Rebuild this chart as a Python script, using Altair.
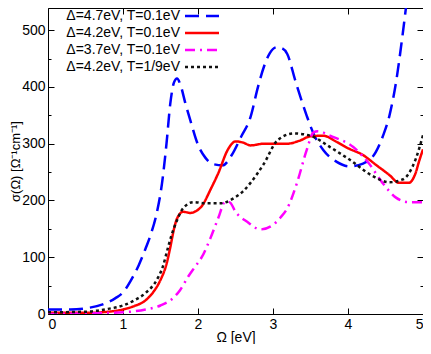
import altair as alt
import pandas as pd

names = ["Δ=4.7eV, T=0.1eV", "Δ=4.2eV, T=0.1eV", "Δ=3.7eV, T=0.1eV", "Δ=4.2eV, T=1/9eV"]
colors = ["#0000ff", "#ff0000", "#ff00ff", "#111111"]
dashes = [[14, 7], [1, 0], [10, 5, 2, 5], [3, 3]]

blue_x = [0, 0.3, 0.5, 0.73, 0.9, 1.0, 1.1, 1.21, 1.3, 1.37, 1.45, 1.52, 1.58, 1.63, 1.68, 1.72,
          1.77, 1.83, 1.9, 2.0, 2.1, 2.2, 2.33, 2.45, 2.57, 2.7, 2.8, 2.88, 2.96, 3.05, 3.12, 3.19,
          3.3, 3.45, 3.55, 3.67, 3.85, 4.02, 4.2, 4.37, 4.47, 4.55, 4.64, 4.73, 4.8]
blue_y = [8, 8, 10, 17, 28, 38, 58, 86, 115, 140, 178, 230, 300, 370, 408, 415,
          402, 372, 340, 298, 275, 264, 262, 280, 311, 347, 400, 436, 460, 470, 468, 458,
          410, 349, 315, 289, 268, 260, 265, 285, 315, 348, 408, 494, 570]

red_x = [0, 0.5, 0.8, 1.0, 1.15, 1.3, 1.4, 1.5, 1.58, 1.63, 1.68, 1.72, 1.8, 1.9, 1.97, 2.05,
         2.17, 2.27, 2.4, 2.5, 2.6, 2.7, 2.88, 3.0, 3.19, 3.35, 3.5, 3.67, 3.85, 4.0, 4.2, 4.37,
         4.55, 4.68, 4.81, 4.9, 4.95, 5.0]
red_y = [2, 2, 4, 8, 14, 24, 38, 60, 88, 117, 150, 168, 180, 178, 181, 190,
         220, 248, 290, 304, 302, 297, 300, 300, 300, 305, 313, 314, 303, 292, 280, 263,
         245, 231, 231, 248, 270, 290]

mag_x = [0, 0.5, 1.0, 1.3, 1.5, 1.65, 1.76, 1.87, 1.96, 2.05, 2.17, 2.27, 2.36, 2.42, 2.5,
         2.66, 2.83, 3.0, 3.1, 3.19, 3.32, 3.45, 3.54, 3.6, 3.76, 4.07, 4.28, 4.46, 4.64, 4.81, 5.0]
mag_y = [0, 1, 3, 8, 15, 26, 42, 66, 83, 100, 135, 169, 197, 197, 180,
         162, 149, 157, 170, 186, 231, 289, 320, 322, 314, 294, 265, 231, 205, 197, 197]

blk_x = [0, 0.5, 0.8, 1.0, 1.15, 1.3, 1.45, 1.53, 1.6, 1.65, 1.72, 1.8, 1.94, 2.1, 2.3, 2.49,
         2.6, 2.7, 2.88, 3.06, 3.28, 3.5, 3.76, 4.02, 4.33, 4.55, 4.73, 4.9, 5.0]
blk_y = [3, 4, 9, 15, 24, 37, 60, 83, 117, 140, 165, 186, 197, 195, 195, 205,
         216, 231, 265, 306, 318, 314, 294, 272, 243, 232, 237, 272, 315]

x_ticks = [0, 1, 2, 3, 4, 5]
y_ticks = [0, 50, 100, 150, 200, 250, 300, 350, 400, 450, 500]

W, H = 375, 306
series = [(blue_x, blue_y), (red_x, red_y), (mag_x, mag_y), (blk_x, blk_y)]

xscale = alt.Scale(domain=[0, 5], nice=False)
yscale = alt.Scale(domain=[0, 539], nice=False)

FONT = "Liberation Sans"
xaxis = alt.Axis(values=x_ticks, title="Ω [eV]", domain=False, ticks=False, grid=True,
                 gridColor="black", gridOpacity=1, gridWidth=1,
                 gridDash=[6, H - 12, 6, 1000], labelPadding=3,
                 titleBaseline="alphabetic", titleY=27,
                 labelFontSize=14, titleFontSize=14, titleFontWeight="normal",
                 labelFont=FONT, titleFont=FONT,
                 labelColor="black", titleColor="black", format="d")
yaxis = alt.Axis(values=y_ticks, title="σ(Ω) [Ω⁻¹cm⁻¹]", domain=False, ticks=False, grid=True,
                 gridColor="black", gridOpacity=1, gridWidth=1,
                 gridDash={"condition": {"test": "datum.value % 100 !== 0",
                                         "value": [3, W - 6, 3, 1000]},
                           "value": [6, W - 12, 6, 1000]},
                 labelExpr="datum.value % 100 === 0 ? datum.label : ''",
                 labelPadding=3, titleBaseline="middle", titleX=-33,
                 labelFontSize=14, titleFontSize=13, titleFontWeight="normal",
                 labelFont=FONT, titleFont=FONT,
                 labelColor="black", titleColor="black")

layers = []
for i, (xs, ys) in enumerate(series):
    df = pd.DataFrame({"x": xs, "y": ys, "s": names[i]})
    layers.append(
        alt.Chart(df).mark_line(color=colors[i], strokeDash=dashes[i], strokeWidth=2.5,
                                interpolate="monotone", clip=True)
        .encode(x=alt.X("x:Q", scale=xscale, axis=xaxis),
                y=alt.Y("y:Q", scale=yscale, axis=yaxis))
    )

for i, name in enumerate(names):
    ly = 8 + 17 * i
    ldf = pd.DataFrame({"label": [name]})
    layers.append(
        alt.Chart(ldf).mark_text(align="right", baseline="middle", fontSize=14,
                                 font=FONT, color="black")
        .encode(text="label:N", x=alt.value(132), y=alt.value(ly))
    )
    layers.append(
        alt.Chart(ldf).mark_rule(color=colors[i], strokeDash=dashes[i], strokeWidth=2.5)
        .encode(x=alt.value(137), x2=alt.value(171), y=alt.value(ly))
    )

chart = alt.layer(*layers).properties(
    width=W, height=H,
    autosize=alt.AutoSizeParams(type="none"),
    padding={"left": 40, "top": 0, "right": 0, "bottom": 30},
).configure_view(stroke="black", strokeWidth=1)

chart.save("out.html", embed_options={"renderer": "svg", "actions": False})
